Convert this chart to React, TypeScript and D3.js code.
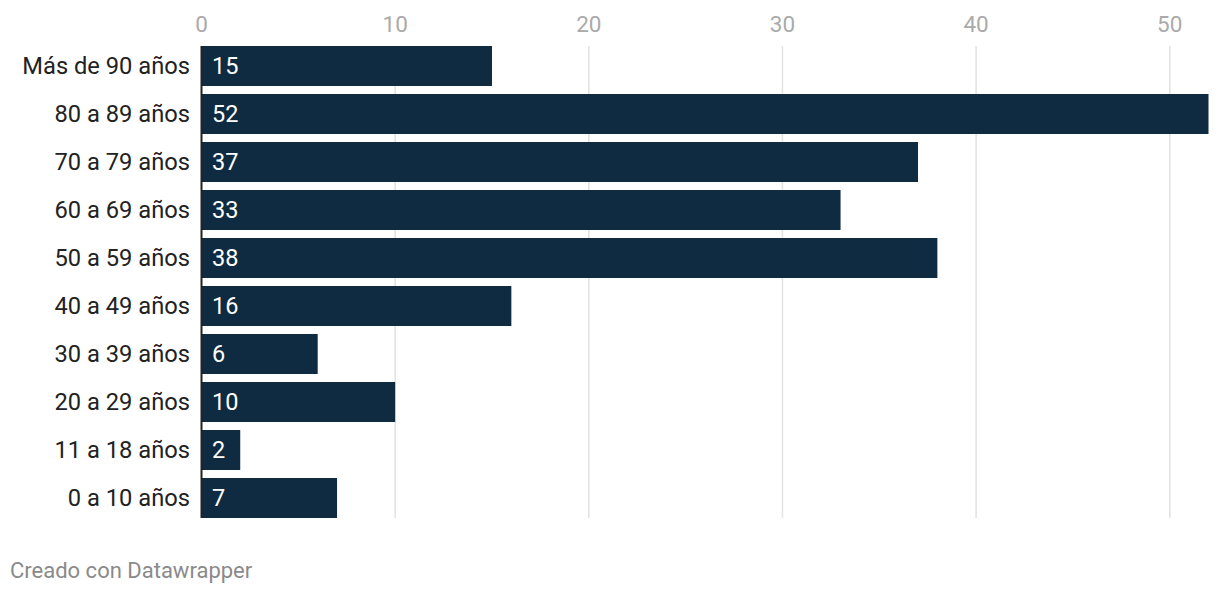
import React from "react";
import * as d3 from "d3";

const categories = [
  "Más de 90 años",
  "80 a 89 años",
  "70 a 79 años",
  "60 a 69 años",
  "50 a 59 años",
  "40 a 49 años",
  "30 a 39 años",
  "20 a 29 años",
  "11 a 18 años",
  "0 a 10 años",
];
const values = [15, 52, 37, 33, 38, 16, 6, 10, 2, 7];
const ticks = [0, 10, 20, 30, 40, 50];

const W = 1220;
const H = 594;

export default function App() {
  const x = d3.scaleLinear().domain([0, 52]).range([201.5, 1208.5]);
  const y = d3
    .scaleBand<string>()
    .domain(categories)
    .range([46, 518])
    .paddingInner(8 / 48)
    .paddingOuter(0);
  const font = "Roboto, sans-serif";
  return (
    <svg
      width={W}
      height={H}
      style={{ position: "absolute", left: 0, top: 0, background: "#fff" }}
      fontFamily={font}
    >
      {ticks.map((t) => (
        <g key={t}>
          {t !== 0 && (
            <line x1={x(t)} x2={x(t)} y1={46} y2={518} stroke="#e2e2e2" strokeWidth={1.5} />
          )}
          <text x={x(t)} y={31.5} textAnchor="middle" fontSize={22.5} fill="#aaaaaa">
            {t}
          </text>
        </g>
      ))}
      {categories.map((c, i) => (
        <g key={c}>
          <rect
            x={x(0)}
            y={y(c)}
            width={x(values[i]) - x(0)}
            height={y.bandwidth()}
            fill="#0f2b41"
          />
          <text
            x={190}
            y={(y(c) as number) + y.bandwidth() / 2}
            dy="0.34em"
            textAnchor="end"
            fontSize={23.7}
            fill="#222"
          >
            {c}
          </text>
          <text
            x={x(0) + 10.5}
            y={(y(c) as number) + y.bandwidth() / 2}
            dy="0.35em"
            fontSize={23.5}
            fill="#fff"
          >
            {values[i]}
          </text>
        </g>
      ))}
      <line x1={x(0)} x2={x(0)} y1={46} y2={518} stroke="#222" strokeWidth={2} />
      <text x={10} y={578} fontSize={22} fill="#8a8a8a">
        Creado con Datawrapper
      </text>
    </svg>
  );
}
